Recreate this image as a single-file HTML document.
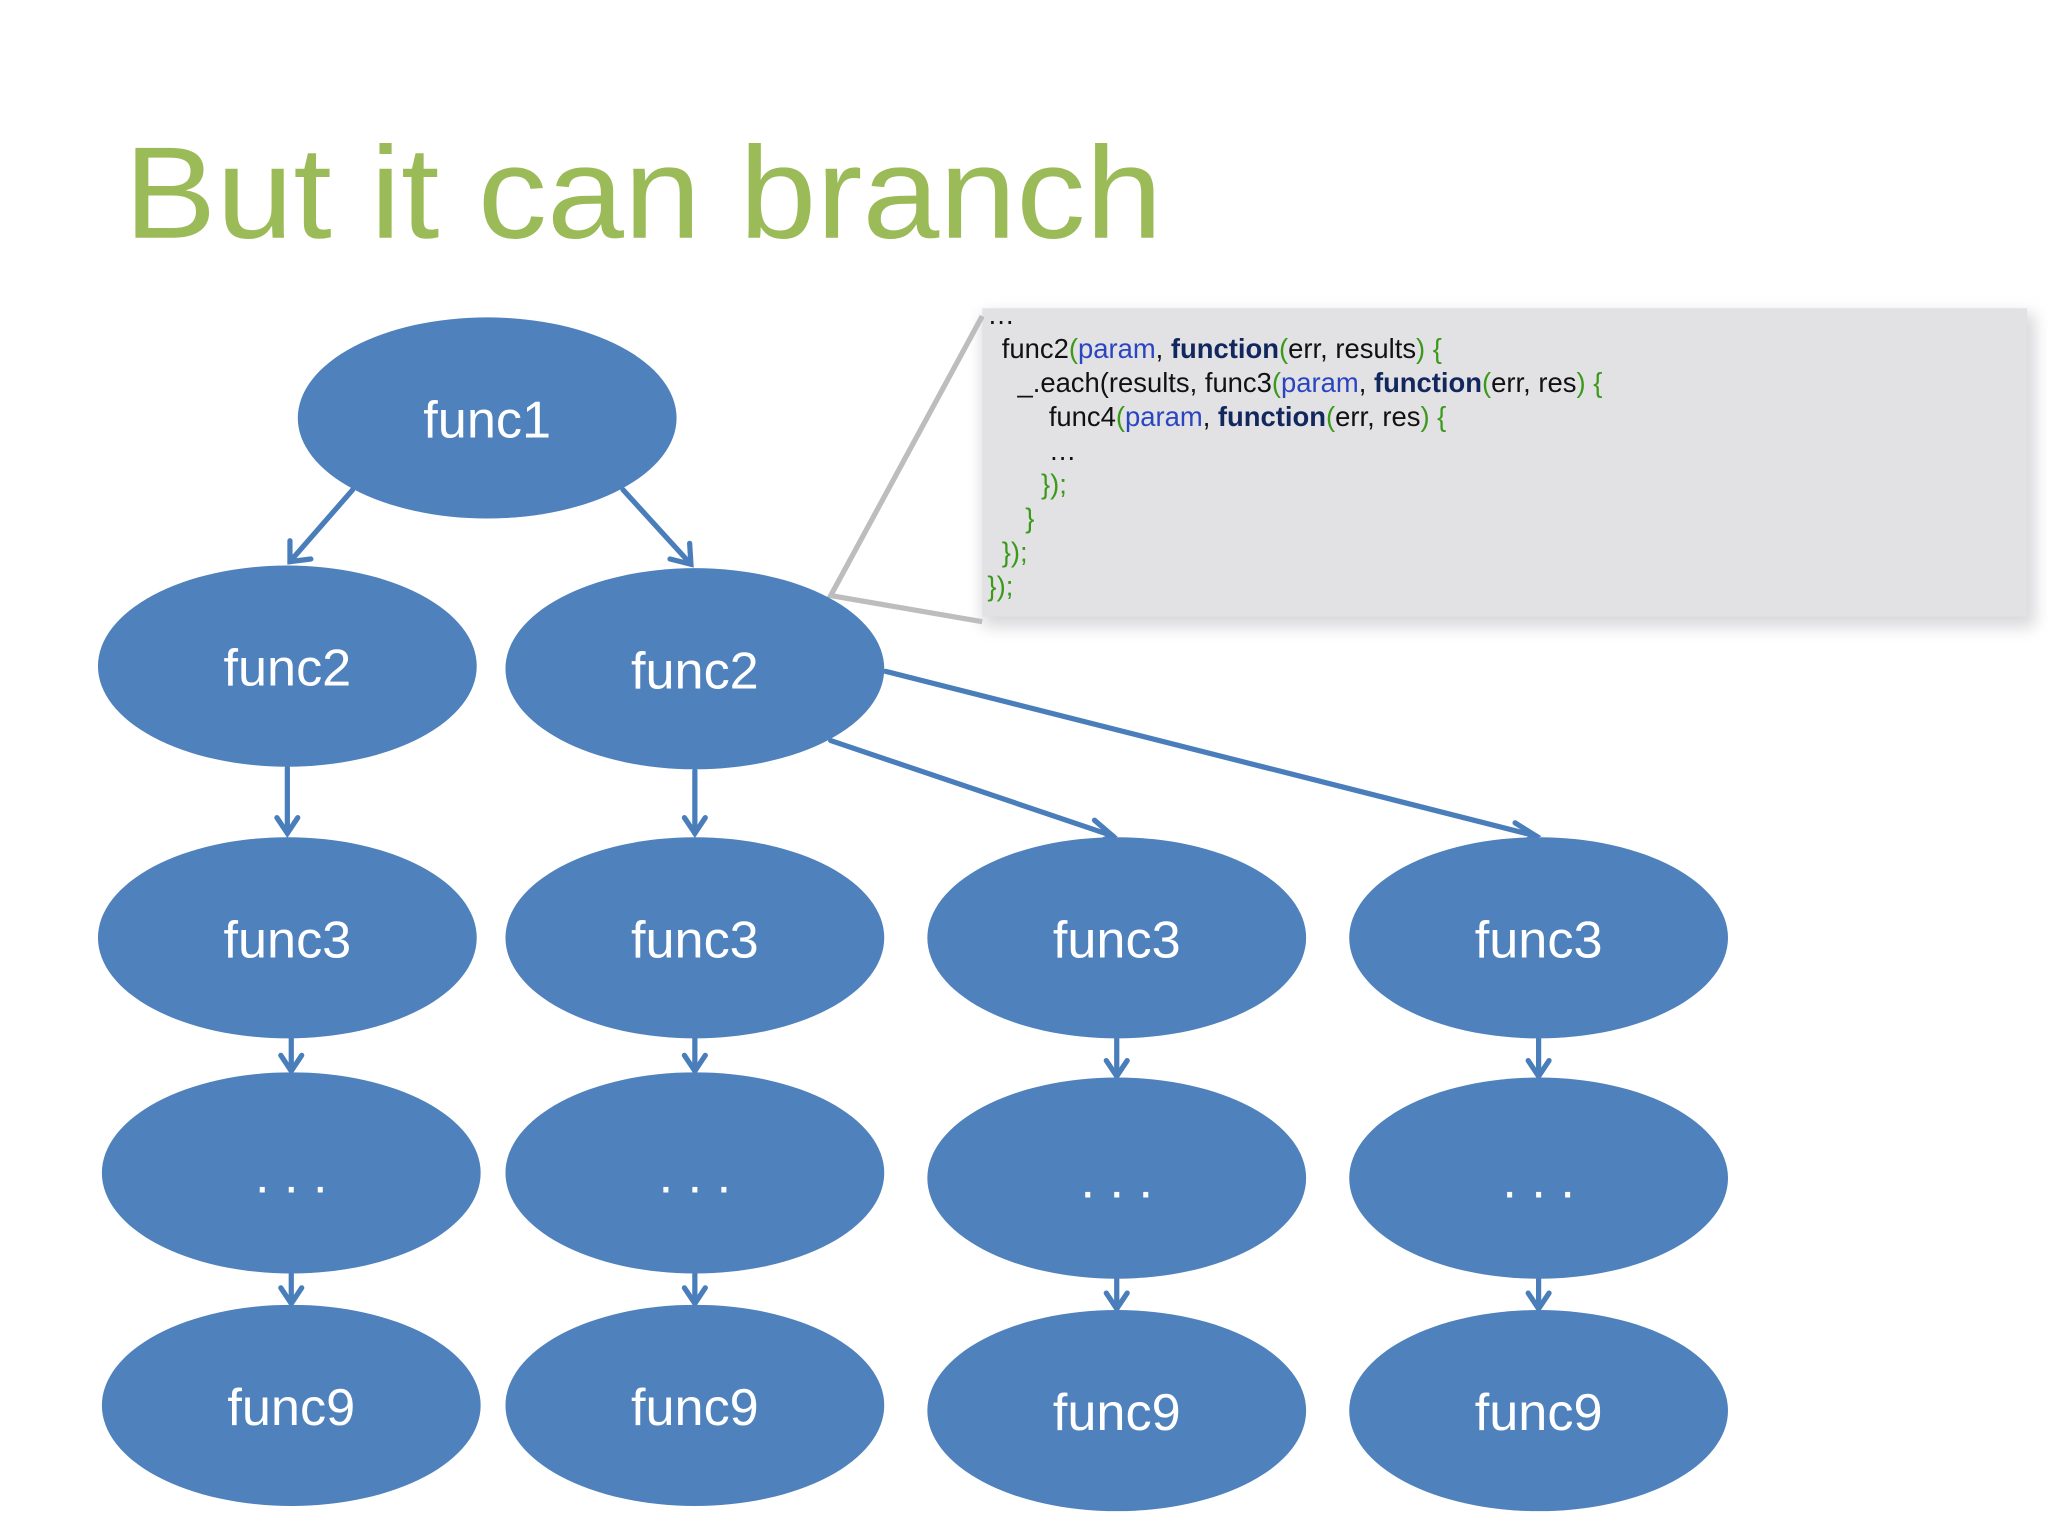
<!DOCTYPE html>
<html><head><meta charset="utf-8"><style>
html,body{margin:0;padding:0;background:#fff;}
svg{display:block;}
</style></head><body>
<svg width="2048" height="1536" viewBox="0 0 1568 1176" xmlns="http://www.w3.org/2000/svg">
<defs>
<marker id="ah" viewBox="0 0 10 10" refX="9" refY="5" markerWidth="6" markerHeight="6" orient="auto" markerUnits="userSpaceOnUse">
</marker>
<filter id="sh" x="-5%" y="-10%" width="110%" height="125%"><feGaussianBlur stdDeviation="6"/></filter>
</defs>
<rect width="1568" height="1176" fill="#fff"/>
<text x="95" y="182" font-family="'Liberation Sans',sans-serif" font-size="100" fill="#9BBB59" textLength="795" lengthAdjust="spacingAndGlyphs">But it can branch</text>

<!-- code box -->
<rect x="752" y="240" width="806" height="240" fill="#d8d8da" filter="url(#sh)"/>
<rect x="752" y="236" width="800" height="236" fill="#e2e2e4"/>
<polyline points="752,242 636,456 752,476" fill="none" stroke="#bdbdbd" stroke-width="4"/>
<g font-family="'Liberation Sans',sans-serif" font-size="21" fill="#111">
<text x="756" y="248">…</text>
<text x="767" y="274">func2<tspan fill="#3a9a1a">(</tspan><tspan fill="#2b45c0">param</tspan>, <tspan font-weight="bold" fill="#12275e">function</tspan><tspan fill="#3a9a1a">(</tspan>err, results<tspan fill="#3a9a1a">) {</tspan></text>
<text x="779" y="300">_.each(results, func3<tspan fill="#3a9a1a">(</tspan><tspan fill="#2b45c0">param</tspan>, <tspan font-weight="bold" fill="#12275e">function</tspan><tspan fill="#3a9a1a">(</tspan>err, res<tspan fill="#3a9a1a">) {</tspan></text>
<text x="803" y="326">func4<tspan fill="#3a9a1a">(</tspan><tspan fill="#2b45c0">param</tspan>, <tspan font-weight="bold" fill="#12275e">function</tspan><tspan fill="#3a9a1a">(</tspan>err, res<tspan fill="#3a9a1a">) {</tspan></text>
<text x="803" y="352">…</text>
<text x="797" y="378" fill="#3a9a1a">});</text>
<text x="785" y="404" fill="#3a9a1a">}</text>
<text x="767" y="430" fill="#3a9a1a">});</text>
<text x="756" y="456" fill="#3a9a1a">});</text>
</g>

<!-- connectors -->
<g stroke="#4A7EBB" stroke-width="4" fill="none" stroke-linecap="round">
<line x1="270" y1="375" x2="222" y2="430"/><polyline points="222,414 222,430 238,428"/>
<line x1="477" y1="375" x2="529" y2="432"/><polyline points="513,428 529,432 528,416"/>
<line x1="678" y1="514" x2="1176" y2="640"/><polyline points="1160,630 1176,640 1165,645"/>
<line x1="636" y1="567" x2="852" y2="640"/><polyline points="838,628 852,640 840,645"/>
<line x1="220" y1="588" x2="220" y2="638"/><polyline points="212,626 220,638 228,626"/>
<line x1="532" y1="590" x2="532" y2="638"/><polyline points="524,626 532,638 540,626"/>
<line x1="223" y1="795" x2="223" y2="820"/><polyline points="215,808 223,820 231,808"/>
<line x1="532" y1="795" x2="532" y2="820"/><polyline points="524,808 532,820 540,808"/>
<line x1="855" y1="795" x2="855" y2="824"/><polyline points="847,812 855,824 863,812"/>
<line x1="1178" y1="795" x2="1178" y2="824"/><polyline points="1170,812 1178,824 1186,812"/>
<line x1="223" y1="975" x2="223" y2="998"/><polyline points="215,986 223,998 231,986"/>
<line x1="532" y1="975" x2="532" y2="998"/><polyline points="524,986 532,998 540,986"/>
<line x1="855" y1="979" x2="855" y2="1002"/><polyline points="847,990 855,1002 863,990"/>
<line x1="1178" y1="979" x2="1178" y2="1002"/><polyline points="1170,990 1178,1002 1186,990"/>
</g>

<g fill="#4F81BD">
<ellipse cx="373" cy="320" rx="145" ry="77"/>
<ellipse cx="220" cy="510" rx="145" ry="77"/>
<ellipse cx="532" cy="512" rx="145" ry="77"/>
<ellipse cx="220" cy="718" rx="145" ry="77"/>
<ellipse cx="532" cy="718" rx="145" ry="77"/>
<ellipse cx="855" cy="718" rx="145" ry="77"/>
<ellipse cx="1178" cy="718" rx="145" ry="77"/>
<ellipse cx="223" cy="898" rx="145" ry="77"/>
<ellipse cx="532" cy="898" rx="145" ry="77"/>
<ellipse cx="855" cy="902" rx="145" ry="77"/>
<ellipse cx="1178" cy="902" rx="145" ry="77"/>
<ellipse cx="223" cy="1076" rx="145" ry="77"/>
<ellipse cx="532" cy="1076" rx="145" ry="77"/>
<ellipse cx="855" cy="1080" rx="145" ry="77"/>
<ellipse cx="1178" cy="1080" rx="145" ry="77"/>
</g>
<g font-family="'Liberation Sans',sans-serif" font-size="40" fill="#fff" text-anchor="middle">
<text x="373" y="335">func1</text>
<text x="220" y="525">func2</text>
<text x="532" y="527">func2</text>
<text x="220" y="733">func3</text>
<text x="532" y="733">func3</text>
<text x="855" y="733">func3</text>
<text x="1178" y="733">func3</text>
<text x="223" y="913">. . .</text>
<text x="532" y="913">. . .</text>
<text x="855" y="917">. . .</text>
<text x="1178" y="917">. . .</text>
<text x="223" y="1091">func9</text>
<text x="532" y="1091">func9</text>
<text x="855" y="1095">func9</text>
<text x="1178" y="1095">func9</text>
</g>
</svg>
</body></html>
